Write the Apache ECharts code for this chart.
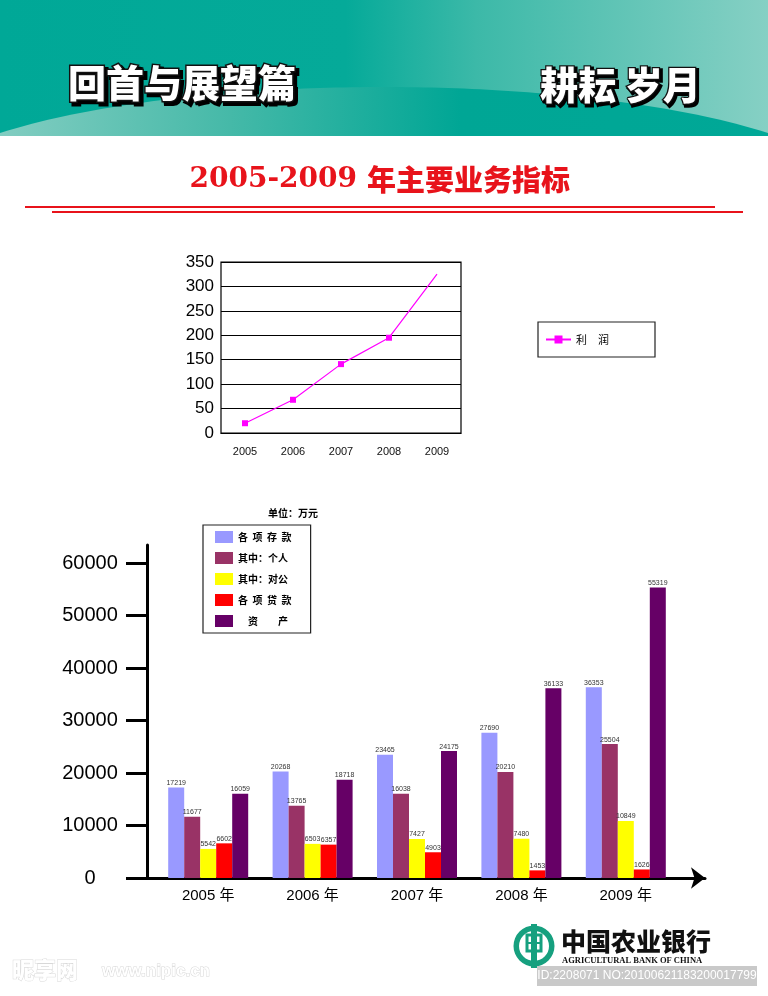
<!DOCTYPE html>
<html><head><meta charset="utf-8">
<script src="https://cdn.jsdelivr.net/npm/echarts@6/dist/echarts.min.js"></script>
<style>html,body{margin:0;padding:0;background:#fff}#c{width:768px;height:996px}</style>
</head><body><div id="c"></div>
<script>
// ---- data ----
const years = ['2005', '2006', '2007', '2008', '2009'];
const profit = [20, 68, 141, 195, 325];
const profitName = '利　润';
const yearLabels = ['2005 年', '2006 年', '2007 年', '2008 年', '2009 年'];
const deposits = [17219, 20268, 23465, 27690, 36353];
const personal = [11677, 13765, 16038, 20210, 25504];
const corporate = [5542, 6503, 7427, 7480, 10849];
const loans = [6602, 6357, 4903, 1453, 1626];
const assets = [16059, 18718, 24175, 36133, 55319];
const barNames = ['各  项  存  款', '其中：个人', '其中：对公', '各  项  贷  款', '　资　　产'];
const barValues = [deposits, personal, corporate, loans, assets];
const barColors = ['#9999ff', '#993366', '#ffff00', '#ff0000', '#660066'];

const CJK = '"Noto Sans CJK SC"';
const SANS = '"Liberation Sans", Arial, "Noto Sans CJK SC", sans-serif';

// header curve polygon (decoration)
const curvePts = [[0, 136]];
for (let x = 0; x <= 768; x += 8) {
  const d = (x - 384) / 480;
  curvePts.push([x, 202 - 115 * Math.sqrt(Math.max(0, 1 - d * d))]);
}
curvePts.push([768, 136]);

const chart = echarts.init(document.getElementById('c'), null, {renderer: 'canvas'});

const green = '#16a07f';

const option = {
  backgroundColor: '#ffffff',
  animation: false,
  textStyle: {fontFamily: SANS},
  grid: [
    {left: 221, right: 307, top: 262, bottom: 563, show: true, borderColor: '#000', borderWidth: 1.2, backgroundColor: 'transparent'},
    {left: 156, right: 90, top: 563, bottom: 118},
    {left: 147, right: 63, top: 545, bottom: 118}
  ],
  xAxis: [
    {gridIndex: 0, type: 'category', data: years, boundaryGap: true,
      axisLine: {lineStyle: {color: '#000', width: 1.2}}, axisTick: {show: false},
      axisLabel: {color: '#111', fontSize: 11, margin: 13}},
    {gridIndex: 1, type: 'category', data: yearLabels,
      axisLine: {show: false}, axisTick: {show: false},
      axisLabel: {color: '#000', fontSize: 15, margin: 10}},
    {gridIndex: 2, type: 'value', min: 0, max: 1,
      axisLine: {show: true, lineStyle: {color: '#000', width: 3}, symbol: ['none', 'arrow'], symbolSize: [16, 14]},
      axisTick: {show: false}, axisLabel: {show: false}, splitLine: {show: false}}
  ],
  yAxis: [
    {gridIndex: 0, type: 'value', min: 0, max: 350, interval: 50,
      axisLine: {show: false}, axisTick: {show: false},
      splitLine: {show: true, lineStyle: {color: '#000', width: 1.2}},
      axisLabel: {color: '#000', fontSize: 17, margin: 7}},
    {gridIndex: 1, type: 'value', min: 0, max: 60000, interval: 10000, offset: 9,
      axisLine: {show: false},
      axisTick: {show: true, length: 21, lineStyle: {color: '#000', width: 3}},
      splitLine: {show: false},
      axisLabel: {color: '#000', fontSize: 20, fontFamily: '"Liberation Sans", Arial', align: 'center', margin: 57,
        formatter: v => String(v)}},
    {gridIndex: 2, type: 'value', min: 0, max: 1,
      axisLine: {show: true, lineStyle: {color: '#000', width: 3}},
      axisTick: {show: false}, axisLabel: {show: false}, splitLine: {show: false}}
  ],
  legend: [
    {data: [profitName], left: 538, top: 322, orient: 'horizontal',
      itemWidth: 25, itemHeight: 10, padding: [12, 46, 12, 7],
      borderColor: '#222', borderWidth: 1.2,
      textStyle: {fontSize: 11, color: '#000', fontFamily: CJK}},
    {data: barNames, left: 203, top: 525, orient: 'vertical', icon: 'rect',
      itemWidth: 18, itemHeight: 12, itemGap: 9, padding: [6, 19, 6, 12],
      borderColor: '#222', borderWidth: 1.2,
      textStyle: {fontSize: 10, fontWeight: 'bold', color: '#000', fontFamily: CJK}}
  ],
  series: [
    {name: profitName, type: 'line', xAxisIndex: 0, yAxisIndex: 0,
      data: profit.map((v, i) => i === profit.length - 1 ? {value: v, symbol: 'none'} : v),
      symbol: 'rect', symbolSize: 6, showSymbol: true,
      lineStyle: {color: '#ff00ff', width: 1.2}, itemStyle: {color: '#ff00ff'}}
  ].concat(barNames.map((n, i) => ({
    name: n, type: 'bar', xAxisIndex: 1, yAxisIndex: 1,
    data: barValues[i], barWidth: 16, barGap: '0%',
    itemStyle: {color: barColors[i]},
    label: {show: true, position: 'top', distance: 1, fontSize: 7, color: '#333'}
  }))),
  graphic: [
    // header
    {type: 'rect', z: -10, shape: {x: 0, y: 0, width: 768, height: 136},
      style: {fill: {type: 'linear', x: 0, y: 0, x2: 1, y2: 0, colorStops: [
        {offset: 0, color: '#00a897'}, {offset: 0.45, color: '#05aa99'}, {offset: 0.62, color: '#3cb9a8'}, {offset: 1, color: '#86d0c4'}]}}},
    {type: 'polygon', z: -9, shape: {points: curvePts},
      style: {fill: {type: 'linear', x: 0, y: 0, x2: 1, y2: 0, colorStops: [
        {offset: 0, color: '#82cdc1'}, {offset: 0.3, color: '#45b9a8'}, {offset: 0.6, color: '#00a695'}, {offset: 1, color: '#00a897'}]}}},
    // header titles (shadow + main)
    {type: 'text', z: 5, style: {text: '回首与展望篇', x: 71, y: 86, textVerticalAlign: 'middle', font: '900 38px "Noto Sans CJK SC"', fill: '#000', stroke: '#000', lineWidth: 4}},
    {type: 'text', z: 6, style: {text: '回首与展望篇', x: 68, y: 83, textVerticalAlign: 'middle', font: '900 38px "Noto Sans CJK SC"', fill: '#ffffff', stroke: '#111', lineWidth: 3}},
    {type: 'text', z: 5, style: {text: '耕耘 岁月', x: 542, y: 87, textVerticalAlign: 'middle', font: '900 38px "Noto Sans CJK SC"', fill: '#000', stroke: '#000', lineWidth: 4}},
    {type: 'text', z: 6, style: {text: '耕耘 岁月', x: 540, y: 85, textVerticalAlign: 'middle', font: '900 38px "Noto Sans CJK SC"', fill: '#ffffff', stroke: '#111', lineWidth: 2.5}},
    // red title
    {type: 'text', z: 6, style: {text: '2005-2009', x: 357, y: 180, textAlign: 'right', textVerticalAlign: 'middle', font: 'bold 28px "DejaVu Serif", "Liberation Serif", serif', fill: '#e8131b'}},
    {type: 'text', z: 6, style: {text: '年主要业务指标', x: 367, y: 180, textAlign: 'left', textVerticalAlign: 'middle', font: '900 29px "Noto Sans CJK SC"', fill: '#e8131b'}},
    {type: 'line', z: 6, shape: {x1: 25, y1: 207, x2: 715, y2: 207}, style: {stroke: '#e8131b', lineWidth: 2}},
    {type: 'line', z: 6, shape: {x1: 52, y1: 212, x2: 743, y2: 212}, style: {stroke: '#e8131b', lineWidth: 2}},
    // unit
    {type: 'text', z: 6, style: {text: '单位：万元', x: 268, y: 513, textVerticalAlign: 'middle', font: 'bold 10px "Noto Sans CJK SC"', fill: '#000'}},
    // bank logo
    {type: 'ring', z: 6, shape: {cx: 534, cy: 946, r: 20.5, r0: 15}, style: {fill: green}},
    {type: 'rect', z: 7, shape: {x: 531, y: 924, width: 6, height: 44}, style: {fill: green}},
    {type: 'rect', z: 7, shape: {x: 527, y: 935, width: 14, height: 16}, style: {fill: 'none', stroke: green, lineWidth: 3}},
    {type: 'line', z: 7, shape: {x1: 527, y1: 943, x2: 541, y2: 943}, style: {stroke: green, lineWidth: 2}},
    {type: 'text', z: 6, style: {text: '中国农业银行', x: 561, y: 941, textVerticalAlign: 'middle', font: '900 25px "Noto Sans CJK SC"', fill: '#111'}},
    {type: 'text', z: 6, style: {text: 'AGRICULTURAL BANK OF CHINA', x: 562, y: 961, textVerticalAlign: 'middle', font: 'bold 8.5px "Liberation Serif", serif', fill: '#111'}},
    // watermarks
    {type: 'rect', z: 8, shape: {x: 537, y: 966, width: 220, height: 20}, style: {fill: '#c9c9c9'}},
    {type: 'text', z: 9, style: {text: 'ID:2208071 NO:20100621183200017799', x: 647, y: 976, textAlign: 'center', textVerticalAlign: 'middle', font: '12px "Liberation Sans", Arial', fill: '#ffffff'}},
    {type: 'text', z: 6, style: {text: '昵享网', x: 12, y: 970, textVerticalAlign: 'middle', font: '900 22px "Noto Sans CJK SC"', fill: '#ffffff', stroke: '#d8d8d8', lineWidth: 1}},
    {type: 'text', z: 6, style: {text: 'www.nipic.cn', x: 102, y: 971, textVerticalAlign: 'middle', font: 'bold 17px "Liberation Sans", Arial', fill: '#ffffff', stroke: '#d8d8d8', lineWidth: 1}}
  ]
};
chart.setOption(option);
</script>
</body></html>
